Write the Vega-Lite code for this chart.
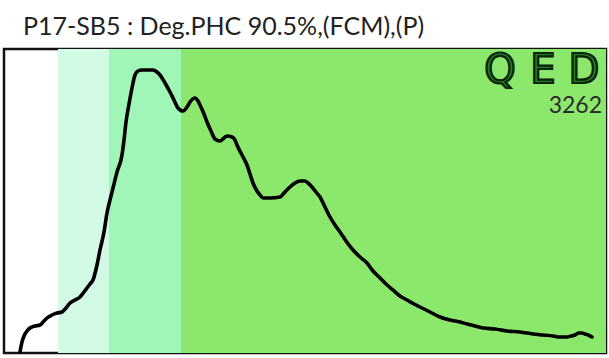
{
  "$schema": "https://vega.github.io/schema/vega-lite/v6.json",
  "width": 602,
  "height": 304,
  "autosize": "none",
  "padding": {"left": 4, "top": 49, "right": 3, "bottom": 5},
  "background": "white",
  "title": {
    "text": "P17-SB5 : Deg.PHC 90.5%,(FCM),(P)",
    "anchor": "start",
    "frame": "group",
    "orient": "top",
    "baseline": "alphabetic",
    "offset": 12,
    "dx": 19,
    "dy": 23,
    "font": "Lato",
    "fontSize": 25,
    "fontWeight": "normal",
    "color": "#222222"
  },
  "config": {
    "view": {"stroke": "#111111", "strokeWidth": 2.5},
    "axis": {"disable": true}
  },
  "datasets": {
    "bands": [
      {"start": 54, "end": 105, "zone": "C10-C16"},
      {"start": 105, "end": 177, "zone": "C16-C20"},
      {"start": 177, "end": 602, "zone": "C20-C40"}
    ],
    "trace": [
      {"rt": 16, "signal": 1}, {"rt": 18, "signal": 11}, {"rt": 20, "signal": 17}, {"rt": 23, "signal": 22},
      {"rt": 26, "signal": 25}, {"rt": 31, "signal": 27}, {"rt": 36, "signal": 28}, {"rt": 40, "signal": 32},
      {"rt": 43, "signal": 35}, {"rt": 48, "signal": 38}, {"rt": 53, "signal": 40}, {"rt": 58, "signal": 41},
      {"rt": 62, "signal": 45}, {"rt": 66, "signal": 50}, {"rt": 71, "signal": 53}, {"rt": 76, "signal": 56},
      {"rt": 80, "signal": 61}, {"rt": 83, "signal": 65}, {"rt": 86, "signal": 69}, {"rt": 89, "signal": 73},
      {"rt": 93, "signal": 88}, {"rt": 96, "signal": 103}, {"rt": 100, "signal": 121}, {"rt": 103, "signal": 140},
      {"rt": 106, "signal": 153}, {"rt": 109, "signal": 165}, {"rt": 113, "signal": 181}, {"rt": 118, "signal": 198},
      {"rt": 120, "signal": 213}, {"rt": 122, "signal": 231}, {"rt": 125, "signal": 249}, {"rt": 128, "signal": 265},
      {"rt": 131, "signal": 278}, {"rt": 134, "signal": 282}, {"rt": 138, "signal": 283}, {"rt": 144, "signal": 283},
      {"rt": 149, "signal": 283}, {"rt": 153, "signal": 281}, {"rt": 156, "signal": 278}, {"rt": 161, "signal": 270},
      {"rt": 166, "signal": 261}, {"rt": 170, "signal": 253}, {"rt": 174, "signal": 245}, {"rt": 179, "signal": 242},
      {"rt": 183, "signal": 246}, {"rt": 186, "signal": 251}, {"rt": 191, "signal": 255}, {"rt": 194, "signal": 252},
      {"rt": 196, "signal": 248}, {"rt": 200, "signal": 239}, {"rt": 203, "signal": 231}, {"rt": 207, "signal": 222},
      {"rt": 211, "signal": 214}, {"rt": 216, "signal": 212}, {"rt": 220, "signal": 215}, {"rt": 223, "signal": 217},
      {"rt": 228, "signal": 216}, {"rt": 231, "signal": 213}, {"rt": 233, "signal": 208}, {"rt": 238, "signal": 198},
      {"rt": 243, "signal": 188}, {"rt": 246, "signal": 179}, {"rt": 249, "signal": 170}, {"rt": 253, "signal": 162},
      {"rt": 256, "signal": 158}, {"rt": 259, "signal": 155}, {"rt": 266, "signal": 155}, {"rt": 276, "signal": 156},
      {"rt": 281, "signal": 161}, {"rt": 286, "signal": 166}, {"rt": 291, "signal": 170}, {"rt": 296, "signal": 172},
      {"rt": 301, "signal": 172}, {"rt": 304, "signal": 170}, {"rt": 308, "signal": 166}, {"rt": 312, "signal": 161},
      {"rt": 316, "signal": 156}, {"rt": 321, "signal": 146}, {"rt": 326, "signal": 136}, {"rt": 331, "signal": 128},
      {"rt": 336, "signal": 121}, {"rt": 342, "signal": 112}, {"rt": 349, "signal": 103}, {"rt": 356, "signal": 96},
      {"rt": 363, "signal": 90}, {"rt": 369, "signal": 82}, {"rt": 376, "signal": 75}, {"rt": 382, "signal": 69},
      {"rt": 389, "signal": 63}, {"rt": 396, "signal": 57}, {"rt": 403, "signal": 53}, {"rt": 410, "signal": 49},
      {"rt": 416, "signal": 46}, {"rt": 426, "signal": 41}, {"rt": 436, "signal": 36}, {"rt": 446, "signal": 33},
      {"rt": 456, "signal": 31}, {"rt": 463, "signal": 29}, {"rt": 471, "signal": 27}, {"rt": 479, "signal": 25},
      {"rt": 491, "signal": 24}, {"rt": 503, "signal": 22}, {"rt": 516, "signal": 21}, {"rt": 529, "signal": 19},
      {"rt": 539, "signal": 18}, {"rt": 549, "signal": 17}, {"rt": 556, "signal": 16}, {"rt": 563, "signal": 16},
      {"rt": 567, "signal": 17}, {"rt": 571, "signal": 18}, {"rt": 575, "signal": 20}, {"rt": 578, "signal": 20},
      {"rt": 581, "signal": 19}, {"rt": 584, "signal": 18}, {"rt": 588, "signal": 16}
    ],
    "logo": [
      {"letter": "Q", "pos": 496},
      {"letter": "E", "pos": 539},
      {"letter": "D", "pos": 580}
    ]
  },
  "layer": [
    {
      "data": {"name": "bands"},
      "mark": {"type": "rect"},
      "encoding": {
        "x": {"field": "start", "type": "quantitative", "scale": {"domain": [0, 602], "nice": false, "zero": false}},
        "x2": {"field": "end"},
        "y": {"datum": 0, "type": "quantitative", "scale": {"domain": [0, 304], "nice": false}},
        "y2": {"datum": 304},
        "color": {
          "field": "zone",
          "type": "nominal",
          "legend": null,
          "scale": {"domain": ["C10-C16", "C16-C20", "C20-C40"], "range": ["#d3fae5", "#a0f6b7", "#8ce86c"]}
        }
      }
    },
    {
      "data": {"name": "trace"},
      "mark": {"type": "line", "color": "#000000", "strokeWidth": 3.6, "interpolate": "monotone", "strokeJoin": "round", "strokeCap": "round"},
      "encoding": {
        "x": {"field": "rt", "type": "quantitative"},
        "y": {"field": "signal", "type": "quantitative"}
      }
    },
    {
      "data": {"name": "logo"},
      "mark": {"type": "text", "font": "DejaVu Sans", "fontWeight": "normal", "fontSize": 40, "align": "center", "baseline": "alphabetic", "fill": "#2a7a2a", "stroke": "#062406", "strokeWidth": 2.2},
      "encoding": {
        "x": {"field": "pos", "type": "quantitative"},
        "y": {"datum": 270, "type": "quantitative"},
        "text": {"field": "letter"}
      }
    },
    {
      "data": {"values": [{"label": "3262"}]},
      "mark": {"type": "text", "font": "Lato", "fontSize": 23, "align": "right", "baseline": "alphabetic", "color": "#2b2b2b"},
      "encoding": {
        "x": {"datum": 598, "type": "quantitative"},
        "y": {"datum": 240, "type": "quantitative"},
        "text": {"field": "label"}
      }
    }
  ]
}
